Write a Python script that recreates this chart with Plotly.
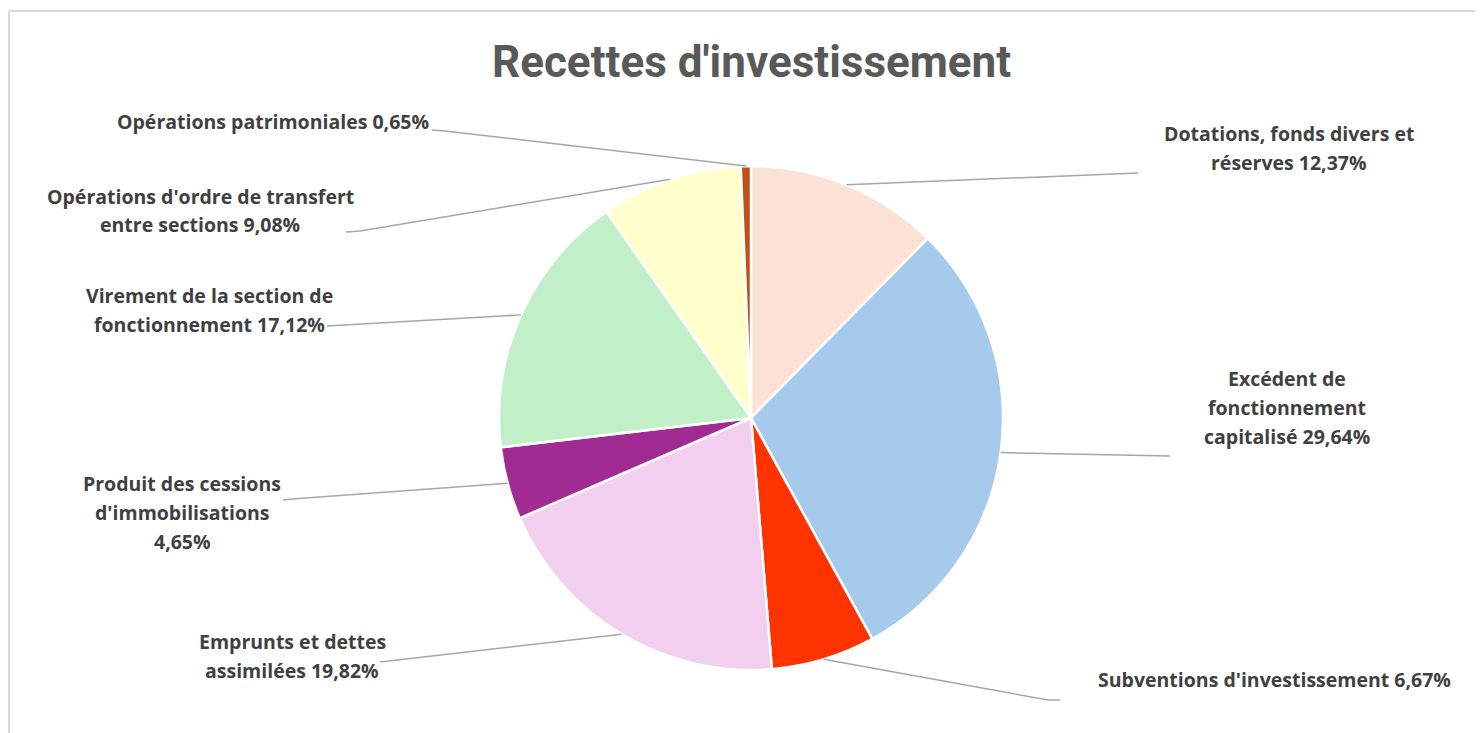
import math
import plotly.graph_objects as go

# --- data -------------------------------------------------------------------
categories = [
    "Dotations, fonds divers et réserves",
    "Excédent de fonctionnement capitalisé",
    "Subventions d'investissement",
    "Emprunts et dettes assimilées",
    "Produit des cessions d'immobilisations",
    "Virement de la section de fonctionnement",
    "Opérations d'ordre de transfert entre sections",
    "Opérations patrimoniales",
]
values = [12.37, 29.64, 6.67, 19.82, 4.65, 17.12, 9.08, 0.65]
colors = ["#FBE2D5", "#A6CAEC", "#FF3300", "#F2CEEF",
          "#A02B93", "#C1F0C8", "#FFFFCC", "#C04F15"]

# --- layout helpers (screen pixels of the 1483x733 window) ------------------
W, H = 1483, 733
OFF = 8  # default page margin around the plot div
CX, CY, R = 751, 418, 252
TEXT = "#404040"
LEADER = "#A6A6A6"
LABEL_FONT = dict(family="Open Sans", size=19.5, color=TEXT, weight="bold")

# per slice: label lines, label centre x, first line y, leader points (label side)
label_layout = [
    (["Dotations, fonds divers et", "réserves {v}"], 1289, 133, [(1138, 173)]),
    (["Excédent de", "fonctionnement", "capitalisé {v}"], 1287, 378, [(1170, 456)]),
    (["Subventions d'investissement {v}"], 1274, 679, [(1060, 700), (1048, 700)]),
    (["Emprunts et dettes", "assimilées {v}"], 292, 641, [(380, 662)]),
    (["Produit des cessions", "d'immobilisations", "{v}"], 182, 483, [(283, 500), (292, 499)]),
    (["Virement de la section de", "fonctionnement {v}"], 210, 295, [(327, 326)]),
    (["Opérations d'ordre de transfert", "entre sections {v}"], 200, 196, [(346, 232), (360, 231)]),
    (["Opérations patrimoniales {v}"], 273, 121, [(432, 130), (445, 131)]),
]
LINE_GAP = 29


def px(x, y):
    return (x - OFF) / W, 1 - (y - OFF) / H


x0d, y1d = px(CX - R, CY - R)
x1d, y0d = px(CX + R, CY + R)
fig = go.Figure(go.Pie(
    labels=categories, values=values, sort=False, direction="clockwise",
    rotation=0, textinfo="none", hoverinfo="label+percent",
    marker=dict(colors=colors, line=dict(color="white", width=2.5)),
    domain=dict(x=[x0d, x1d], y=[y0d, y1d]),
))

annotations = []
shapes = []
total = sum(values)
cum = 0
for val, (lines, lx, ly, pts) in zip(values, label_layout):
    mid = (cum + val / 2) / total * 2 * math.pi
    cum += val
    edge = (CX + R * math.sin(mid), CY - R * math.cos(mid))
    pct = f"{val:.2f}".replace(".", ",") + "%"
    for i, line in enumerate(lines):
        ax, ay = px(lx, ly + i * LINE_GAP)
        annotations.append(dict(
            x=ax, y=ay, xref="paper", yref="paper", showarrow=False,
            text=line.format(v=pct), xanchor="center", yanchor="middle",
            font=LABEL_FONT,
        ))
    path_pts = pts + [edge]
    path = "M " + " L ".join(f"{px(x, y)[0]},{px(x, y)[1]}" for x, y in path_pts)
    shapes.append(dict(type="path", xref="paper", yref="paper", path=path,
                       line=dict(color=LEADER, width=1.5)))

# chart frame (only top and left edges are visible in the window)
fx, fy = px(9, 11)
shapes.append(dict(type="line", xref="paper", yref="paper",
                   x0=fx, y0=fy, x1=1.02, y1=fy,
                   line=dict(color="#D9D9D9", width=2)))
shapes.append(dict(type="line", xref="paper", yref="paper",
                   x0=fx, y0=fy, x1=fx, y1=-0.02,
                   line=dict(color="#D9D9D9", width=2)))

tx, ty = px(751, 62)
annotations.append(dict(
    x=tx, y=ty, xref="paper", yref="paper", showarrow=False,
    text="Recettes d'investissement", xanchor="center", yanchor="middle",
    font=dict(family="Roboto", size=44, color="#595959", weight="bold"),
))

fig.update_layout(
    width=W, height=H, margin=dict(l=0, r=0, t=0, b=0),
    paper_bgcolor="white", plot_bgcolor="white", showlegend=False,
    annotations=annotations, shapes=shapes,
)

fig.write_html("out.html")
